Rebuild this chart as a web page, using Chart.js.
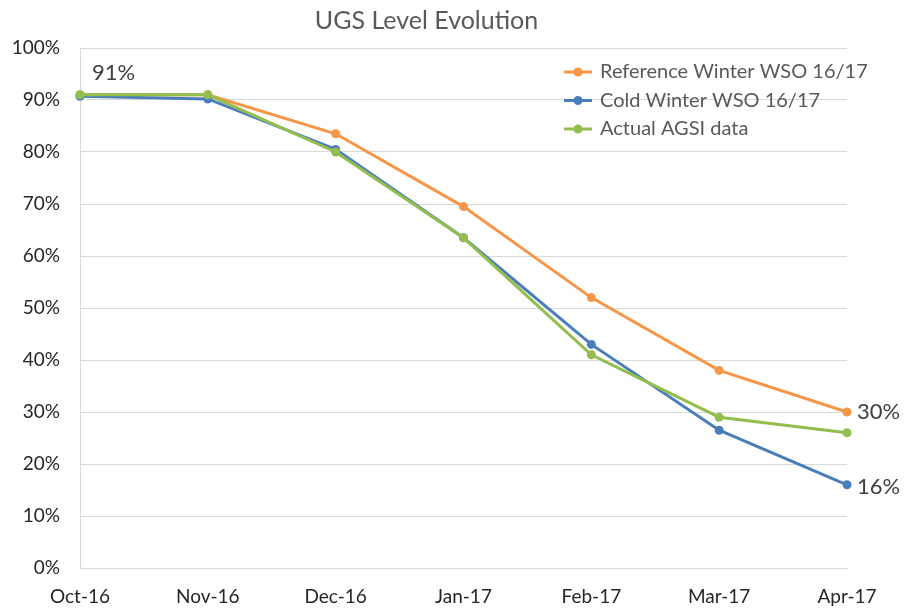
<!DOCTYPE html>
<html>
<head>
<meta charset="utf-8">
<script src="https://cdn.jsdelivr.net/npm/chart.js@4"></script>
<style>
  html, body { margin: 0; padding: 0; background: #fff; }
  #wrap { width: 904px; height: 608px; }
</style>
</head>
<body>
<div id="wrap"><canvas id="ugsChart"></canvas></div>
<script>
const months = ["Oct-16", "Nov-16", "Dec-16", "Jan-17", "Feb-17", "Mar-17", "Apr-17"];
const referenceWinter = [91, 91, 83.5, 69.5, 52, 38, 30];
const coldWinter = [90.7, 90.2, 80.5, 63.5, 43, 26.5, 16];
const actualAgsi = [91, 91, 80, 63.5, 41, 29, 26];
const yTicks = [0, 10, 20, 30, 40, 50, 60, 70, 80, 90, 100];

const orange = "#f79646";
const blue = "#4a7ebb";
const green = "#93be4d";

// legend inside the plot + the three value labels
const extrasPlugin = {
  id: "extras",
  afterDraw(chart) {
    const ctx = chart.ctx;
    const x = chart.scales.x;
    const y = chart.scales.y;
    ctx.save();

    // legend
    ctx.font = "20px Lato";
    ctx.textBaseline = "middle";
    ctx.textAlign = "left";
    chart.data.datasets.forEach((ds, i) => {
      const ly = 72 + i * 28.5;
      ctx.strokeStyle = ds.borderColor;
      ctx.lineWidth = 3;
      ctx.beginPath();
      ctx.moveTo(564, ly);
      ctx.lineTo(592, ly);
      ctx.stroke();
      ctx.fillStyle = ds.borderColor;
      ctx.beginPath();
      ctx.arc(578, ly, 4.5, 0, Math.PI * 2);
      ctx.fill();
      ctx.fillStyle = "#595959";
      ctx.fillText(ds.label, 600, ly);
    });

    // value labels
    ctx.font = "22px Lato";
    ctx.fillStyle = "#404040";
    const last = months.length - 1;
    ctx.fillText(actualAgsi[0] + "%", x.getPixelForValue(0) + 12, y.getPixelForValue(actualAgsi[0]) - 22);
    ctx.fillText(referenceWinter[last] + "%", x.getPixelForValue(last) + 10, y.getPixelForValue(referenceWinter[last]));
    ctx.fillText(coldWinter[last] + "%", x.getPixelForValue(last) + 10, y.getPixelForValue(coldWinter[last]) + 2);
    ctx.restore();
  },
};

const lineStyle = (color) => ({
  borderColor: color,
  backgroundColor: color,
  borderWidth: 3,
  pointRadius: 4.5,
  pointHoverRadius: 5,
  pointBorderWidth: 0,
  tension: 0,
  fill: false,
});

new Chart(document.querySelector("#ugsChart").getContext("2d"), {
  type: "line",
  data: {
    labels: months,
    datasets: [
      { label: "Reference Winter WSO 16/17", data: referenceWinter, order: 2, ...lineStyle(orange) },
      { label: "Cold Winter WSO 16/17", data: coldWinter, order: 1, ...lineStyle(blue) },
      { label: "Actual AGSI data", data: actualAgsi, order: 0, ...lineStyle(green) },
    ],
  },
  plugins: [extrasPlugin],
  options: {
    responsive: true,
    maintainAspectRatio: false,
    animation: false,
    plugins: {
      title: {
        display: true,
        text: "UGS Level Evolution",
        color: "#595959",
        font: { family: "Lato", size: 25, weight: "normal" },
        padding: { top: 6, bottom: 12 },
      },
      legend: { display: false },
      tooltip: { enabled: false },
    },
    layout: {
      padding: { top: 0, right: 57, bottom: 0, left: 6 },
    },
    scales: {
      x: {
        offset: false,
        grid: { display: false, drawTicks: false },
        border: { color: "#d9d9d9", width: 1 },
        ticks: {
          color: "#262626",
          font: { family: "Lato", size: 19 },
          padding: 17,
          maxRotation: 0,
          autoSkip: false,
        },
        afterFit(scale) {
          scale.height = 40;
        },
      },
      y: {
        min: 0,
        max: 100,
        afterBuildTicks(scale) {
          scale.ticks = yTicks.map((v) => ({ value: v }));
        },
        grid: { color: "#d9d9d9", lineWidth: 1, drawTicks: false },
        border: { color: "#d9d9d9", width: 1 },
        ticks: {
          color: "#262626",
          font: { family: "Lato", size: 19 },
          padding: 20,
          callback: (v) => v + "%",
        },
        afterFit(scale) {
          scale.width = 74;
        },
      },
    },
  },
});
</script>
</body>
</html>
